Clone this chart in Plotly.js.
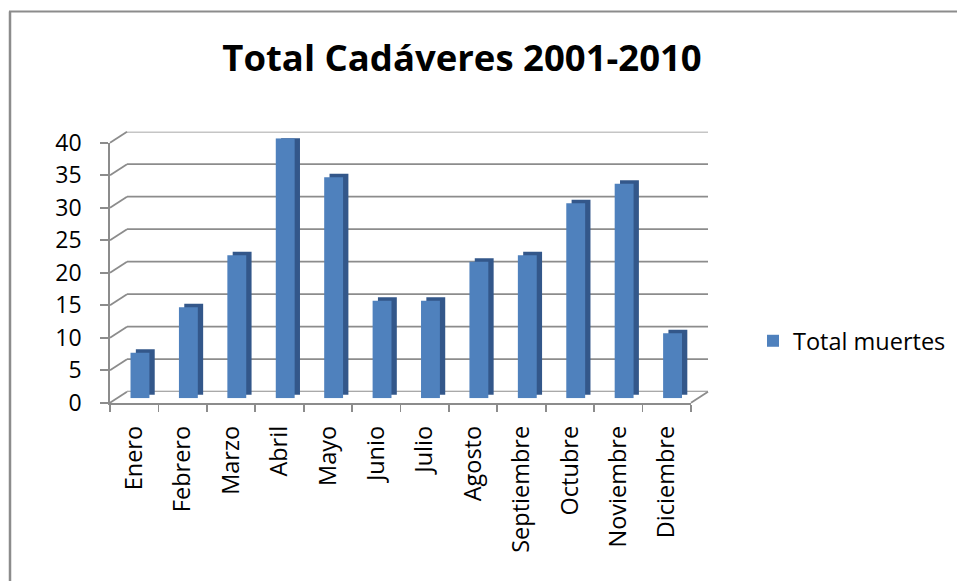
<!DOCTYPE html>
<html>
<head>
<meta charset="utf-8">
<script src="https://cdn.plot.ly/plotly-3.0.1.min.js"></script>
<style>html,body{margin:0;padding:0;background:#fff;}#chart{width:957px;height:581px;}</style>
</head>
<body>
<div id="chart"></div>
<script>
const categories = ['Enero','Febrero','Marzo','Abril','Mayo','Junio','Julio','Agosto','Septiembre','Octubre','Noviembre','Diciembre'];
const values = [7,14,22,40,34,15,15,21,22,30,33,10];
const yTickValues = [0,5,10,15,20,25,30,35,40];
const seriesName = 'Total muertes';
const chartTitle = 'Total Cadáveres 2001-2010';

const W = 957, H = 581;
const px = p => p / W;
const py = p => 1 - p / H;
// front plane geometry (pixels)
const FX0 = 110, FX1 = 691, FY0 = 402.7, FY40 = 142.7;
const BACK_DX = 17, BACK_DY = -11;   // back wall offset
const BAR_DX = 6, BAR_DY = -4.4;     // bar depth offset
const gray = '#8c8c8c';
const font = 'Open Sans, Calibri, sans-serif';

const yMax = yTickValues[yTickValues.length - 1];
const yFront = v => FY0 + (FY40 - FY0) * v / yMax;
const yBack = v => yFront(v) + BACK_DY;

const shapes = [];
yTickValues.forEach(v => {
  // left side wall edges
  shapes.push({type:'line', xref:'paper', yref:'paper',
    x0:px(FX0), y0:py(yFront(v)), x1:px(FX0+BACK_DX), y1:py(yBack(v)),
    line:{color:gray, width:1.8}});
  // back wall gridlines
  shapes.push({type:'line', xref:'x2 domain', yref:'y2', x0:0, x1:1, y0:v, y1:v,
    line:{color:gray, width:1.8}, layer:'below'});
});
shapes.push({type:'line', xref:'paper', yref:'paper',
  x0:px(FX1), y0:py(yFront(0)), x1:px(FX1+BACK_DX), y1:py(yBack(0)),
  line:{color:gray, width:1.8}});
// outer frame (left and top edges)
shapes.push({type:'line', xref:'paper', yref:'paper', x0:px(10), y0:py(11.5), x1:px(10), y1:py(585), line:{color:'#8c8c8c', width:2.5}});
shapes.push({type:'line', xref:'paper', yref:'paper', x0:px(9), y0:py(11.5), x1:px(960), y1:py(11.5), line:{color:'#8c8c8c', width:2}});

const data = [
  {type:'scatter', x:categories, y:categories.map(()=>null), xaxis:'x', yaxis:'y', showlegend:false, hoverinfo:'skip', mode:'lines'},
  {type:'scatter', x:categories, y:categories.map(()=>null), xaxis:'x2', yaxis:'y2', showlegend:false, hoverinfo:'skip', mode:'lines'},
  // side/top face of 3D bars
  {type:'bar', x:categories, y:values, base:0.55, xaxis:'x3', yaxis:'y3', width:0.39, offset:-0.09,
   marker:{color:'#33578a', line:{width:0}}, showlegend:false, hoverinfo:'skip'},
  // front face
  {type:'bar', x:categories, y:values, name:seriesName, xaxis:'x3', yaxis:'y3', width:0.39, offset:-0.2,
   marker:{color:'#4f81bd', line:{width:0}}, showlegend:true}
];

const layout = {
  width: W, height: H,
  margin: {l:0, r:0, t:0, b:0},
  paper_bgcolor:'#ffffff', plot_bgcolor:'rgba(0,0,0,0)',
  barmode:'overlay',
  font:{family:font, color:'#000', size:22},
  title:{text:chartTitle, font:{family:font, size:36.5, weight:'bold', color:'#000'},
         x:px(462), xanchor:'center', y:py(58), yanchor:'middle', xref:'paper', yref:'paper'},
  showlegend:true,
  legend:{x:px(753), xanchor:'left', y:py(341), yanchor:'middle', font:{size:23.5, family:font},
          bgcolor:'rgba(0,0,0,0)', itemwidth:30},
  xaxis:{domain:[px(FX0), px(FX1)], range:[-0.5, categories.length-0.5], type:'category',
         anchor:'y', tickson:'boundaries', ticks:'outside', ticklen:7, tickwidth:1.8, tickcolor:gray,
         showline:true, linecolor:gray, linewidth:1.8, tickangle:-90, showgrid:false, zeroline:false,
         tickfont:{size:23.5, family:font}, ticklabelstandoff:12, fixedrange:true},
  yaxis:{domain:[py(FY0), py(FY40)], range:[0, yMax], tickvals:yTickValues, anchor:'x',
         ticks:'outside', ticklen:8, tickwidth:1.8, tickcolor:gray, showline:true, linecolor:gray, linewidth:1.8,
         showgrid:false, zeroline:false, tickfont:{size:23, family:font}, ticklabelstandoff:14, fixedrange:true},
  xaxis2:{domain:[px(FX0+BACK_DX), px(FX1+BACK_DX)], range:[-0.5, categories.length-0.5], type:'category',
          anchor:'y2', showticklabels:false, showgrid:false, zeroline:false, showline:false, ticks:''},
  yaxis2:{domain:[py(FY0+BACK_DY), py(FY40+BACK_DY)], range:[0, yMax], tickvals:yTickValues, anchor:'x2',
          showticklabels:false, showgrid:false, zeroline:false, showline:false, ticks:''},
  xaxis3:{domain:[px(FX0+BAR_DX), px(FX1+BAR_DX)], range:[-0.5, categories.length-0.5], type:'category',
          anchor:'y3', showticklabels:false, showgrid:false, zeroline:false, showline:false, ticks:''},
  yaxis3:{domain:[py(FY0+BAR_DY), py(FY40+BAR_DY)], range:[0, yMax], anchor:'x3',
          showticklabels:false, showgrid:false, zeroline:false, showline:false, ticks:''},
  shapes: shapes
};

Plotly.newPlot('chart', data, layout, {displayModeBar:false, staticPlot:true});
</script>
</body>
</html>
